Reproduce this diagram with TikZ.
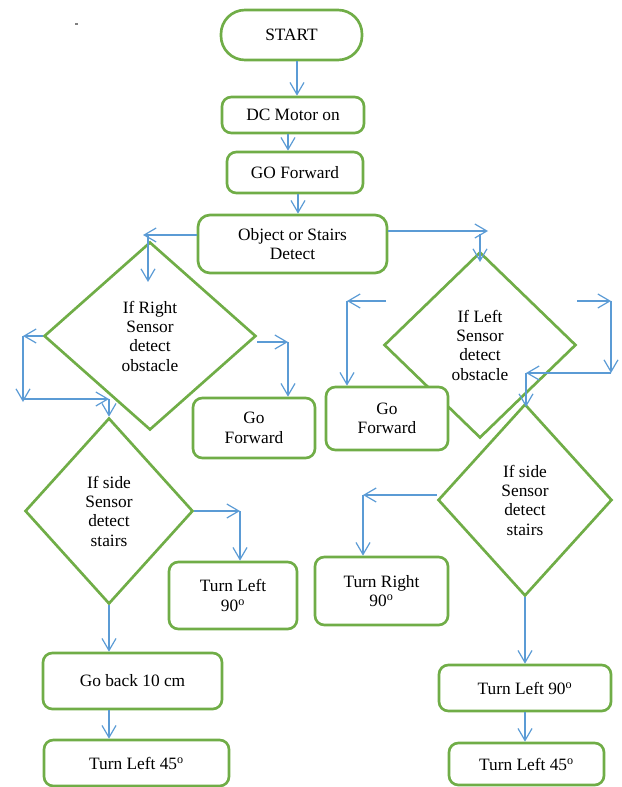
\documentclass[tikz,border=0pt]{standalone}
\usepackage{fontspec}
\setmainfont{Liberation Serif}
\usetikzlibrary{arrows.meta,shapes.geometric}
\definecolor{gr}{HTML}{70AD47}
\definecolor{bl}{HTML}{5B9BD5}
\begin{document}
\begin{tikzpicture}[x=0.75pt,y=-0.75pt,
  every node/.style={font=\fontsize{13}{14.5}\selectfont, align=center, inner sep=0pt},
  sz/.style 2 args={minimum width=#1*0.75pt, minimum height=#2*0.75pt},
  box/.style={draw=gr, line width=2pt, fill=white, rounded corners=7pt},
  dia/.style={draw=gr, line width=2pt, diamond},
  arr/.style={draw=bl, line width=0.9pt, -{Straight Barb[length=9pt,width=10.5pt]}}]
\useasboundingbox (0,0) rectangle (621,787);
\fill[gray] (75,23.5) rectangle (78,25);
% diamonds
\node[dia, sz={212}{188}] (d1) at (150,336) {If Right\\Sensor\\detect\\obstacle};
\node[dia, sz={168}{186}] (d2) at (109,511) {If side\\Sensor\\detect\\stairs};
\node[dia, sz={192}{186}] (d3) at (480,345) {If Left\\Sensor\\detect\\obstacle};
\node[dia, sz={174}{192}] (d4) at (525,500) {If side\\Sensor\\detect\\stairs};
% boxes
\node[box, rounded corners=18pt, sz={141}{50}] (start) at (291.5,35) {START};
\node[box, sz={142}{36}] (dc) at (293,115) {DC Motor on};
\node[box, sz={136}{41}] (go) at (295,172.5) {GO Forward};
\node[box, rounded corners=9pt, sz={189}{58}] (obj) at (292.5,244) {Object or Stairs\\Detect};
\node[box, sz={122}{60}] (gf1) at (254,428) {Go\\Forward};
\node[box, sz={128}{67}] (tl90) at (233,595.5) {Turn Left\\90\textsuperscript{o}};
\node[box, sz={179}{56}] (gb) at (132.5,681) {Go back 10 cm};
\node[box, sz={185}{46}] (tl45) at (136.5,763) {Turn Left 45\textsuperscript{o}};
\node[box, sz={122}{63}] (gf2) at (387,418.5) {Go\\Forward};
\node[box, sz={133}{68}] (tr90) at (381.5,591) {Turn Right\\90\textsuperscript{o}};
\node[box, sz={172}{46}] (tl90r) at (525,688) {Turn Left 90\textsuperscript{o}};
\node[box, sz={155}{42}] (tl45r) at (526.5,764) {Turn Left 45\textsuperscript{o}};
% main column
\coordinate (a1) at (297,0);
\coordinate (a2) at (288,0);
\coordinate (a3) at (298,0);
\draw[arr] (start.south -| a1) -- (dc.north -| a1);
\draw[arr] (dc.south -| a2) -- (go.north -| a2);
\draw[arr] (go.south -| a3) -- (obj.north -| a3);
% left branch
\coordinate (l1) at (143,235);
\coordinate (l2) at (148,235);
\coordinate (l3) at (148,282);
\draw[arr] (obj.west |- l1) -- (l1);
\draw[arr] (l2) -- (l3);
\coordinate (r1) at (288,342);
\draw[arr] (d1.east |- r1) -- (r1);
\draw[arr] (r1) -- (gf1.north -| r1);
\coordinate (q1) at (23,336);
\coordinate (q2) at (23,402);
\coordinate (q3) at (23,399);
\coordinate (q4) at (109,399);
\draw[arr] (d1.west) -- (q1);
\draw[arr] (q1) -- (q2);
\draw[arr] (q3) -- (q4);
\draw[arr] (q4) -- (d2.north);
\coordinate (s1) at (240,511);
\draw[arr] (d2.east) -- (s1);
\draw[arr] (s1) -- (tl90.north -| s1);
\draw[arr] (d2.south) -- (gb.north -| d2.south);
\draw[arr] (gb.south -| d2.south) -- (tl45.north -| d2.south);
% right branch
\coordinate (t1) at (488,231);
\coordinate (t2) at (480,234);
\coordinate (t3) at (480,262);
\draw[arr] (obj.east |- t1) -- (t1);
\draw[arr] (t2) -- (t3);
\coordinate (u0) at (386,301);
\coordinate (u1) at (347,301);
\draw[arr] (u0) -- (u1);
\draw[arr] (u1) -- (gf2.north -| u1);
\coordinate (v0) at (577,301);
\coordinate (v1) at (611,301);
\coordinate (v2) at (611,373);
\coordinate (v3) at (526,373);
\coordinate (v4) at (526,407);
\draw[arr] (v0) -- (v1);
\draw[arr] (v1) -- (v2);
\draw[arr] (v2) -- (v3);
\draw[arr] (v3) -- (v4);
\coordinate (w1) at (363,495);
\draw[arr] (d4.west |- w1) -- (w1);
\draw[arr] (w1) -- (tr90.north -| w1);
\draw[arr] (d4.south) -- (tl90r.north -| d4.south);
\draw[arr] (tl90r.south -| d4.south) -- (tl45r.north -| d4.south);
\end{tikzpicture}
\end{document}
